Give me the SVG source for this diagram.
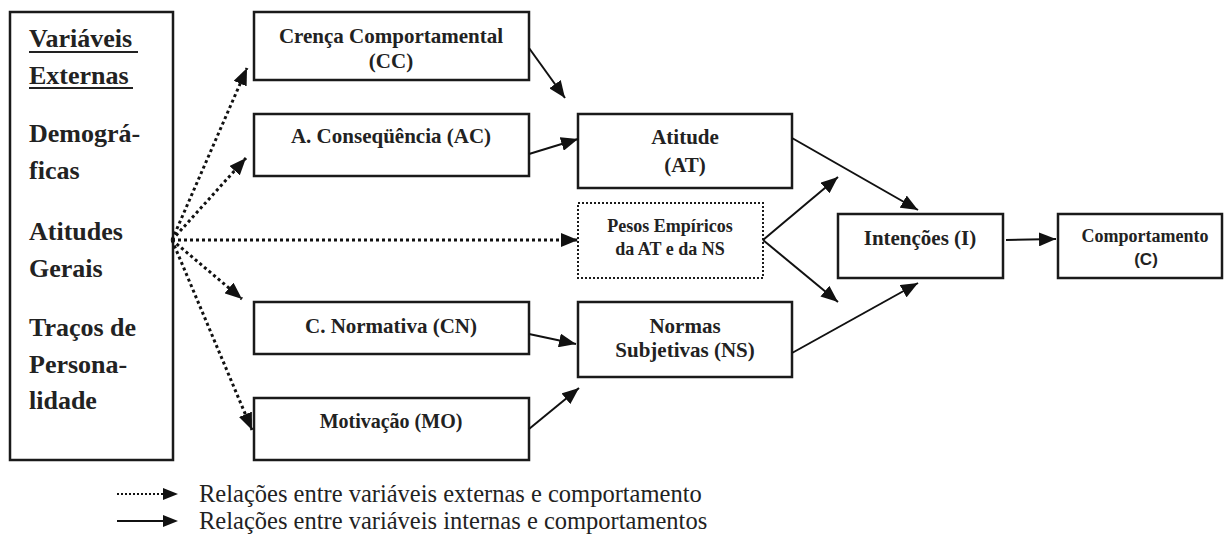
<svg xmlns="http://www.w3.org/2000/svg" width="1227" height="549" viewBox="0 0 1227 549">
<style>
.box{fill:#fff;stroke:#1a1a1a;stroke-width:2.5}
.dbox{fill:#fff;stroke:#1a1a1a;stroke-width:2;stroke-dasharray:2 2}
.t{font-family:"Liberation Serif","Times New Roman",serif;font-weight:bold;fill:#222;text-anchor:middle}
.lt{font-family:"Liberation Serif","Times New Roman",serif;font-weight:bold;fill:#222;font-size:26px}
.sans{font-family:"Liberation Sans",Arial,sans-serif;font-weight:bold}
.leg{font-family:"Liberation Serif","Times New Roman",serif;fill:#222;font-size:24.5px}
.sol{stroke:#111;stroke-width:2;fill:none;marker-end:url(#ah)}
.dot{stroke:#111;stroke-width:3;stroke-dasharray:3 3;fill:none;marker-end:url(#ah)}
</style>
<defs>
<marker id="ah" markerUnits="userSpaceOnUse" markerWidth="17" markerHeight="14" refX="17" refY="7" orient="auto">
<path d="M0,0 L17,7 L0,14 Z" fill="#111"/>
</marker>
</defs>
<rect width="1227" height="549" fill="#fff"/>

<g id="externas">
<rect class="box" x="10" y="12" width="163" height="448"/>
<text class="lt" x="29" y="47">Variáveis</text>
<line x1="29" y1="52" x2="138" y2="52" stroke="#222" stroke-width="2"/>
<text class="lt" x="29" y="84">Externas</text>
<line x1="29" y1="88" x2="133" y2="88" stroke="#222" stroke-width="2"/>
<text class="lt" x="29" y="142">Demográ-</text>
<text class="lt" x="29" y="179">ficas</text>
<text class="lt" x="29" y="240">Atitudes</text>
<text class="lt" x="29" y="277">Gerais</text>
<text class="lt" x="29" y="336">Traços de</text>
<text class="lt" x="29" y="373">Persona-</text>
<text class="lt" x="29" y="409">lidade</text>
</g>

<g id="cc">
<rect class="box" x="254" y="12" width="275" height="68"/>
<text class="t" x="391" y="43" font-size="21">Crença Comportamental</text>
<text class="t" x="391" y="68" font-size="21">(CC)</text>
</g>
<g id="ac">
<rect class="box" x="254" y="114" width="275" height="62"/>
<text class="t" x="391" y="143" font-size="21">A. Conseqüência (AC)</text>
</g>
<g id="cn">
<rect class="box" x="254" y="302" width="275" height="52"/>
<text class="t" x="391" y="333" font-size="21">C. Normativa (CN)</text>
</g>
<g id="mo">
<rect class="box" x="254" y="398" width="275" height="62"/>
<text class="t" x="391" y="428" font-size="20">Motivação (MO)</text>
</g>
<g id="at">
<rect class="box" x="578" y="114" width="214" height="74"/>
<text class="t" x="685" y="144" font-size="21">Atitude</text>
<text class="t" x="685" y="172" font-size="21">(AT)</text>
</g>
<g id="pesos">
<rect class="dbox" x="578" y="203" width="185" height="75"/>
<text class="t" x="670" y="232" font-size="18">Pesos Empíricos</text>
<text class="t" x="670" y="255" font-size="18">da AT e da NS</text>
</g>
<g id="ns">
<rect class="box" x="578" y="302" width="214" height="75"/>
<text class="t" x="685" y="333" font-size="21">Normas</text>
<text class="t" x="685" y="357" font-size="21">Subjetivas (NS)</text>
</g>
<g id="intencoes">
<rect class="box" x="838" y="214" width="165" height="64"/>
<text class="t" x="920" y="245" font-size="21">Intenções (I)</text>
</g>
<g id="comportamento">
<rect class="box" x="1058" y="214" width="164" height="64"/>
<text class="t" x="1145" y="242" font-size="18">Comportamento</text>
<text class="t sans" x="1146" y="265" font-size="17">(C)</text>
</g>

<g id="connectors">
<path class="dot" d="M172,240 L247,68"/>
<path class="dot" d="M172,240 L246,158"/>
<path class="dot" d="M172,240 L578,240"/>
<path class="dot" d="M172,240 L242,299"/>
<path class="dot" d="M172,240 L252,430"/>
<path class="sol" d="M529,48 L565,98"/>
<path class="sol" d="M529,154 L578,139"/>
<path class="sol" d="M529,334 L576,344"/>
<path class="sol" d="M529,429 L579,388"/>
<path class="sol" d="M792,138 L918,210"/>
<path class="sol" d="M763,240 L838,177"/>
<path class="sol" d="M763,240 L838,302"/>
<path class="sol" d="M792,353 L918,283"/>
<path class="sol" d="M1006,240 L1056,239"/>
</g>

<g id="legenda">
<path d="M117,494 L163,494" stroke="#111" stroke-width="2" stroke-dasharray="2 2" fill="none"/>
<path d="M163,488 L178,494 L163,500 Z" fill="#111"/>
<path d="M117,521 L163,521" stroke="#111" stroke-width="2" fill="none"/>
<path d="M163,515 L178,521 L163,527 Z" fill="#111"/>
<text class="leg" x="199" y="502">Relações entre variáveis externas e comportamento</text>
<text class="leg" x="199" y="529">Relações entre variáveis internas e comportamentos</text>
</g>
</svg>
